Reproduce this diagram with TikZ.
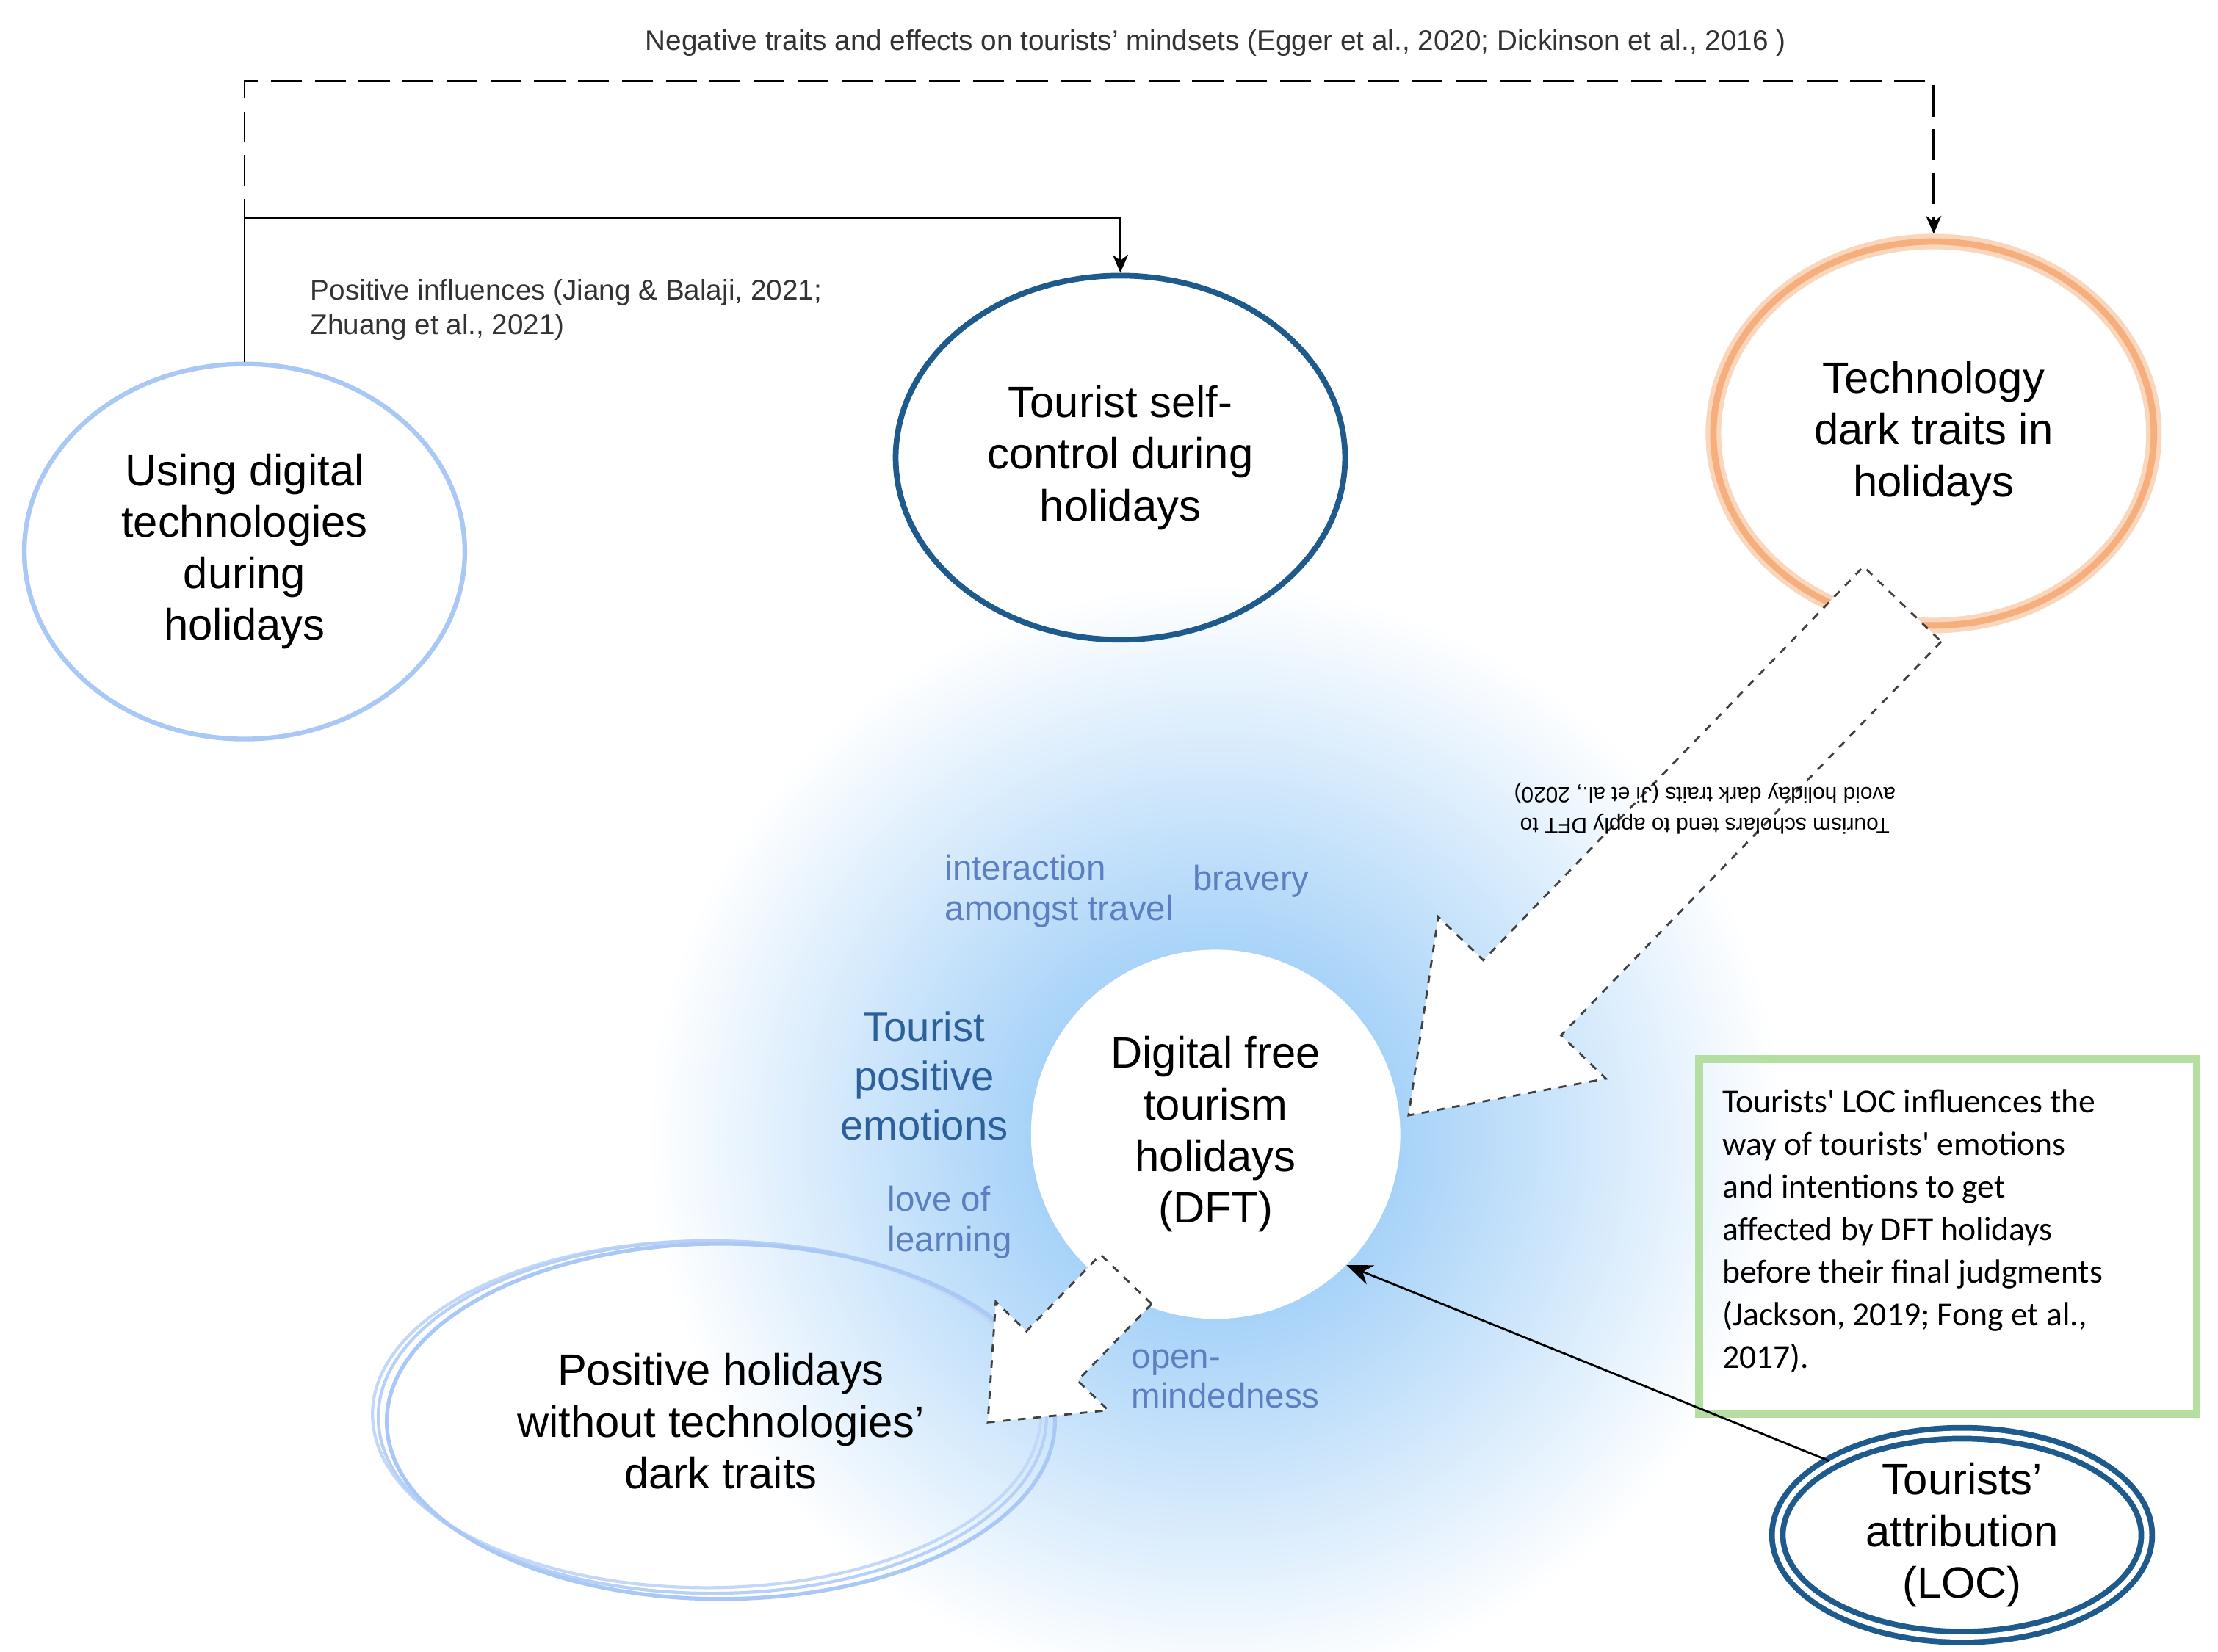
\documentclass[tikz,border=0pt]{standalone}
\usepackage{fontspec}
\setmainfont{Liberation Sans}
\newfontfamily\calib{Carlito}
\usetikzlibrary{arrows.meta,shapes.geometric}
\definecolor{lb}{HTML}{A9C8F5}
\definecolor{db}{HTML}{1F5A8C}
\definecolor{org}{HTML}{F5AE7C}
\definecolor{glow}{HTML}{7DBDF5}
\definecolor{wd}{HTML}{5B7FC0}
\definecolor{wd2}{HTML}{2D5F9A}
\definecolor{grn}{HTML}{B5DFA0}
\begin{document}
\begin{tikzpicture}[x=0.01936cm,y=-0.01936cm,
  ell/.style={ellipse,inner sep=0pt,align=center,font=\fontsize{17}{20}\selectfont},
  small/.style={font=\fontsize{11}{13.5}\selectfont,text=black!80},
  word/.style={align=left,text=wd,font=\fontsize{13.5}{15.5}\selectfont},
  hollow/.style={draw=black!75,dashed,thick,fill=white},
  arr/.style={-{Stealth[length=7pt,width=6pt]}}]
\useasboundingbox (0,0) rectangle (1560,1162);
\fill[white] (0,0) rectangle (1560,1162);
% glow
\shade[inner color=glow,outer color=white] (855,800) ellipse (400 and 390);
% nodes
\node[ell,draw=lb,line width=1.8pt,minimum width=6.0cm,minimum height=5.11cm] (A) at (172,388) {Using digital\\technologies\\during\\holidays};
\node[ell,draw=db,line width=2.2pt,minimum width=6.12cm,minimum height=4.96cm] (B) at (788,322) {Tourist self-\\control during\\holidays};
\node[ell,draw=org!50,line width=6pt,minimum width=6.0cm,minimum height=5.23cm] (C) at (1360,305) {};
\node[ell,draw=org,line width=2.5pt,minimum width=6.0cm,minimum height=5.23cm] (C2) at (1360,305) {Technology\\dark traits in\\holidays};
\node[circle,fill=white,inner sep=0pt,minimum size=5.03cm,align=center,font=\fontsize{17}{20}\selectfont] (D) at (855,798) {Digital free\\tourism\\holidays\\(DFT)};
\draw[lb!70,line width=1.2pt] (497,995) ellipse (235 and 122);
\draw[lb!85,line width=1.2pt] (501,997) ellipse (235 and 124);
\node[ell,draw=lb,line width=1.5pt,minimum width=9.1cm,minimum height=4.84cm] (P) at (507,1000) {Positive holidays\\without technologies'\\dark traits};
\node[ell,draw=db,line width=2.2pt,double=white,double distance=2pt,minimum width=5.03cm,minimum height=2.71cm] (L) at (1380,1080) {Tourists'\\attribution\\(LOC)};
\node[draw=grn,line width=3pt,minimum width=6.78cm,minimum height=4.84cm,inner sep=0pt] (G) at (1370,870) {};
\node[align=left,font=\calib\fontsize{13}{16.5}\selectfont,anchor=north west] (GT) at (1205,760) {Tourists' LOC influences the\\way of tourists' emotions\\and intentions to get\\affected by DFT holidays\\before their final judgments\\(Jackson, 2019; Fong et al.,\\2017).};
% top connectors
\coordinate (a1) at (172,57);
\coordinate (a2) at (1360,57);
\coordinate (b1) at (172,153);
\coordinate (b2) at (788,153);
\draw[thick,dashed,dash pattern=on 12pt off 5pt,arr] (A.north) -- (a1) -- (a2) -- (C.north);
\draw[thick,arr] (A.north) -- (b1) -- (b2) -- (B.north);
\node[small] (t1) at (855,30) {Negative traits and effects on tourists' mindsets (Egger et al., 2020; Dickinson et al., 2016 )};
\node[small,align=left,anchor=north west] (t2) at (212,190) {Positive influences (Jiang \& Balaji, 2021;\\Zhuang et al., 2021)};
% big hollow arrow
\begin{scope}[shift={(1338,425)},rotate=-134]
\draw[hollow] (0,-38) -- (385,-38) -- (385,-82) -- (500,0) -- (385,82) -- (385,38) -- (0,38) -- cycle;
\node[rotate=180,align=center,font=\fontsize{8.5}{12}\selectfont] (at) at (200,0) {Tourism scholars tend to apply DFT to\\avoid holiday dark traits (Ji et al., 2020)};
\end{scope}
% small hollow arrow
\begin{scope}[shift={(792,900)},rotate=-134]
\draw[hollow] (0,-25) -- (75,-25) -- (75,-55) -- (140,0) -- (75,55) -- (75,25) -- (0,25) -- cycle;
\end{scope}
% LOC arrow
\draw[thick,-{Stealth[length=10pt,width=8pt]}] (L.north west) -- (D.south east);
% words
\node[word] (w1) at (745,627) {interaction\\amongst travel};
\node[word] (w2) at (880,620) {bravery};
\node[align=center,text=wd2,font=\fontsize{16}{19}\selectfont] (w3) at (650,757) {Tourist\\positive\\emotions};
\node[word] (w4) at (668,860) {love of\\learning};
\node[word] (w5) at (862,970) {open-\\mindedness};
\end{tikzpicture}
\end{document}
